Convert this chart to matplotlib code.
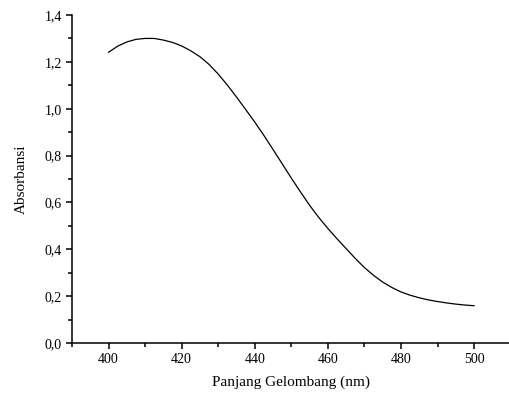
import matplotlib
matplotlib.use("Agg")
import matplotlib.pyplot as plt
from matplotlib.ticker import MultipleLocator, FuncFormatter

# spectrum (every 2.5 nm)
wavelength = [400, 402.5, 405, 407.5, 410, 412.5, 415, 417.5, 420, 422.5, 425, 427.5, 430,
              432.5, 435, 437.5, 440, 442.5, 445, 447.5, 450, 452.5, 455, 457.5, 460,
              462.5, 465, 467.5, 470, 472.5, 475, 477.5, 480, 482.5, 485, 487.5, 490,
              492.5, 495, 497.5, 500]
absorbance = [1.241, 1.267, 1.285, 1.296, 1.300, 1.300, 1.293, 1.283, 1.268, 1.247, 1.222, 1.189, 1.148,
              1.101, 1.050, 0.997, 0.943, 0.886, 0.826, 0.765, 0.704, 0.645, 0.588, 0.536, 0.489,
              0.445, 0.403, 0.361, 0.322, 0.289, 0.260, 0.237, 0.218, 0.204, 0.193, 0.184, 0.177,
              0.171, 0.166, 0.162, 0.159]

plt.rcParams['font.family'] = ['Liberation Serif', 'DejaVu Serif']

fig = plt.figure(figsize=(5.09, 3.97), dpi=100)
ax = fig.add_axes([72 / 509, 54 / 397, 438.6 / 509, 328 / 397])

ax.plot(wavelength, absorbance, color='black', linewidth=0.9)

ax.set_xlim(390, 510)
ax.set_ylim(0, 1.4)
ax.xaxis.set_major_locator(MultipleLocator(20))
ax.xaxis.set_minor_locator(MultipleLocator(10))
ax.yaxis.set_major_locator(MultipleLocator(0.2))
ax.yaxis.set_minor_locator(MultipleLocator(0.1))
ax.yaxis.set_major_formatter(FuncFormatter(lambda v, p: f"{v:.1f}".replace('.', ',')))

for s in ['top', 'right']:
    ax.spines[s].set_visible(False)
for s in ['left', 'bottom']:
    ax.spines[s].set_linewidth(1.1)
ax.tick_params(which='major', direction='out', length=4.3, width=1.1, labelsize=10, pad=3)
ax.tick_params(which='minor', direction='out', length=2.7, width=1.1)

ax.set_xlabel('Panjang Gelombang (nm)', fontsize=11, labelpad=7)
ax.set_ylabel('Absorbansi', fontsize=11, labelpad=12)

fig.savefig('out.png', dpi=100)
